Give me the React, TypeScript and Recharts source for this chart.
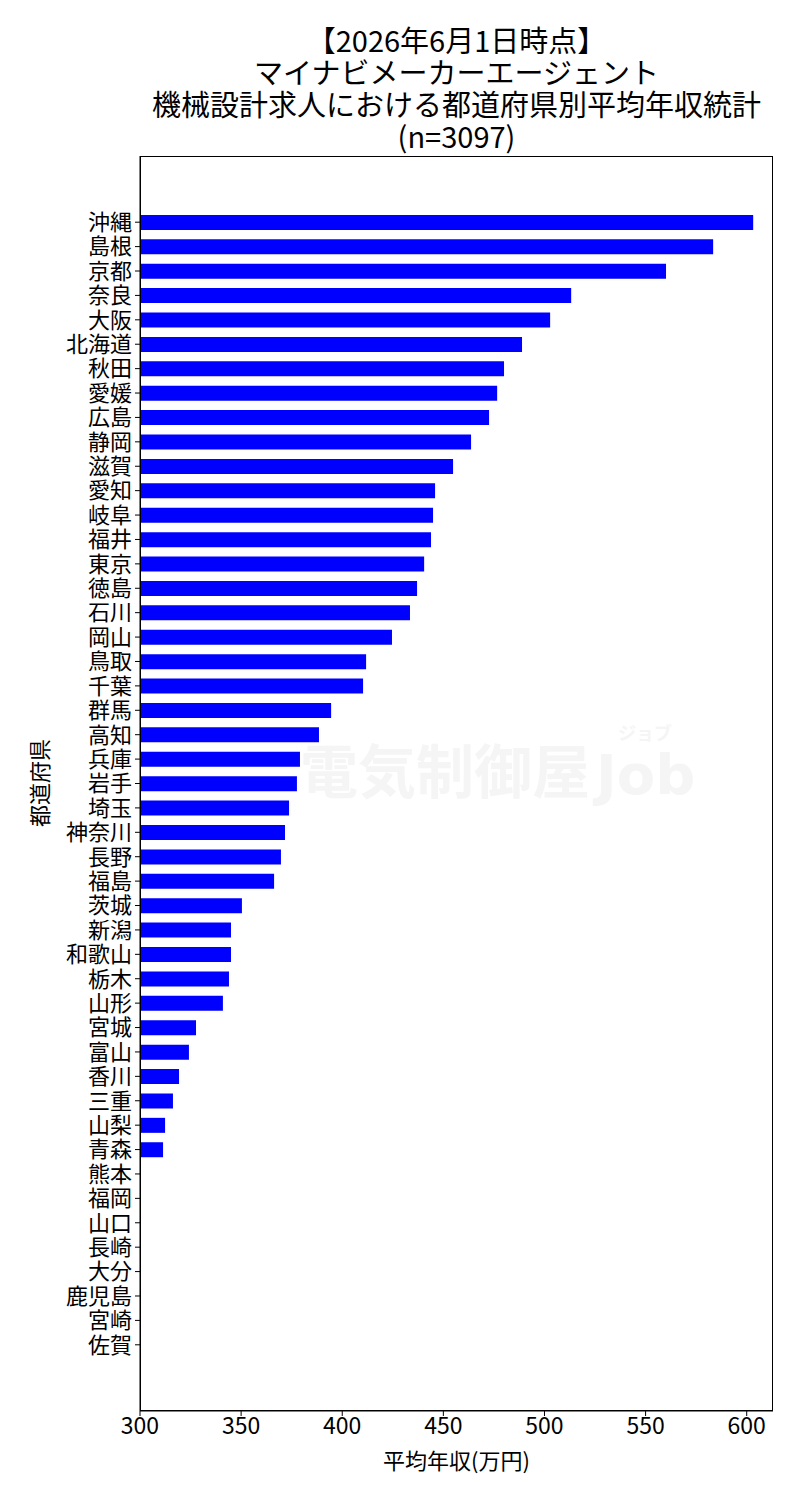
import { BarChart, Bar, XAxis, YAxis } from 'recharts';

const prefectures = [
  '沖縄', '島根', '京都', '奈良', '大阪', '北海道', '秋田', '愛媛', '広島', '静岡',
  '滋賀', '愛知', '岐阜', '福井', '東京', '徳島', '石川', '岡山', '鳥取', '千葉',
  '群馬', '高知', '兵庫', '岩手', '埼玉', '神奈川', '長野', '福島', '茨城', '新潟',
  '和歌山', '栃木', '山形', '宮城', '富山', '香川', '三重', '山梨', '青森', '熊本',
  '福岡', '山口', '長崎', '大分', '鹿児島', '宮崎', '佐賀',
];

// average annual salary (万円); the last eight fall below the axis start
const salaries: (number | null)[] = [
  603.2, 583.4, 560.1, 513.2, 502.8, 488.9, 480.0, 476.6, 472.6, 463.7,
  454.8, 445.9, 444.9, 443.9, 440.5, 437.0, 433.5, 424.6, 411.8, 410.3,
  394.5, 388.5, 379.1, 377.6, 373.7, 371.7, 369.7, 366.3, 350.4, 345.0,
  345.0, 344.0, 341.0, 327.7, 324.2, 319.3, 316.3, 312.4, 311.4, null,
  null, null, null, null, null, null, null,
];

const xTicks = [300, 350, 400, 450, 500, 550, 600];
const xDomain: [number, number] = [300, 613];

const titleLines = [
  '【2026年6月1日時点】',
  'マイナビメーカーエージェント',
  '機械設計求人における都道府県別平均年収統計',
  '(n=3097)',
];

const FONT = '"Noto Sans CJK JP", "Noto Sans", sans-serif';

const data = prefectures.map((name, i) => ({ name, value: salaries[i] }));

const App = () => {
  return (
    <div style={{ position: 'absolute', left: 0, top: 0, width: 800, height: 1500, fontFamily: FONT, background: '#fff' }}>
      {/* watermark */}
      <div style={{ position: 'absolute', left: 300, top: 728, width: 420, height: 80, color: '#f5f5f5', fontWeight: 700, zIndex: 0 }}>
        <span style={{ position: 'absolute', left: 0, top: 4, fontSize: 58, lineHeight: '72px' }}>電気制御屋</span>
        <span style={{ position: 'absolute', left: 318, top: -6, fontSize: 18, lineHeight: '20px' }}>ジョブ</span>
        <span style={{ position: 'absolute', left: 296, top: 14, fontSize: 56, lineHeight: '66px', fontFamily: '"DejaVu Sans", sans-serif' }}>Job</span>
      </div>

      {titleLines.map((line, i) => (
        <div
          key={line}
          style={{
            position: 'absolute', left: 140, width: 633, top: 24 + i * 32,
            textAlign: 'center', fontSize: 29, lineHeight: '31px', color: '#000', whiteSpace: 'nowrap',
          }}
        >
          {line}
        </div>
      ))}

      <div style={{ position: 'absolute', left: 0, top: 0, zIndex: 1 }}>
        <BarChart
          width={800}
          height={1500}
          data={data}
          layout="vertical"
          margin={{ top: 156, right: 27, bottom: 0, left: 0 }}
          barCategoryGap="20%"
        >
          <XAxis
            type="number"
            domain={xDomain}
            ticks={xTicks}
            allowDataOverflow
            height={89}
            tickSize={5}
            tickMargin={2}
            stroke="#000"
            tick={{ fill: '#000', fontSize: 23, fontFamily: FONT }}
          />
          <YAxis
            type="category"
            dataKey="name"
            width={140}
            interval={0}
            tickSize={5}
            tickMargin={3}
            stroke="#000"
            padding={{ top: 54, bottom: 54 }}
            tick={{ fill: '#000', fontSize: 22, fontFamily: FONT }}
          />
          <Bar dataKey="value" fill="#0000ff" isAnimationActive={false} />
        </BarChart>
      </div>

      {/* plot frame (top/right spines) */}
      <div style={{ position: 'absolute', left: 140, top: 156, width: 633, height: 1255, boxSizing: 'border-box', border: '1px solid #000', pointerEvents: 'none', zIndex: 2 }} />

      <div style={{ position: 'absolute', left: 140, width: 633, top: 1444, textAlign: 'center', fontSize: 22, lineHeight: '30px', color: '#000', zIndex: 2 }}>
        平均年収(万円)
      </div>
      <div
        style={{
          position: 'absolute', left: 38, top: 783, fontSize: 22, lineHeight: '30px', color: '#000',
          transform: 'translate(-50%, -50%) rotate(-90deg)', whiteSpace: 'nowrap', zIndex: 2,
        }}
      >
        都道府県
      </div>
    </div>
  );
};

export default App;
